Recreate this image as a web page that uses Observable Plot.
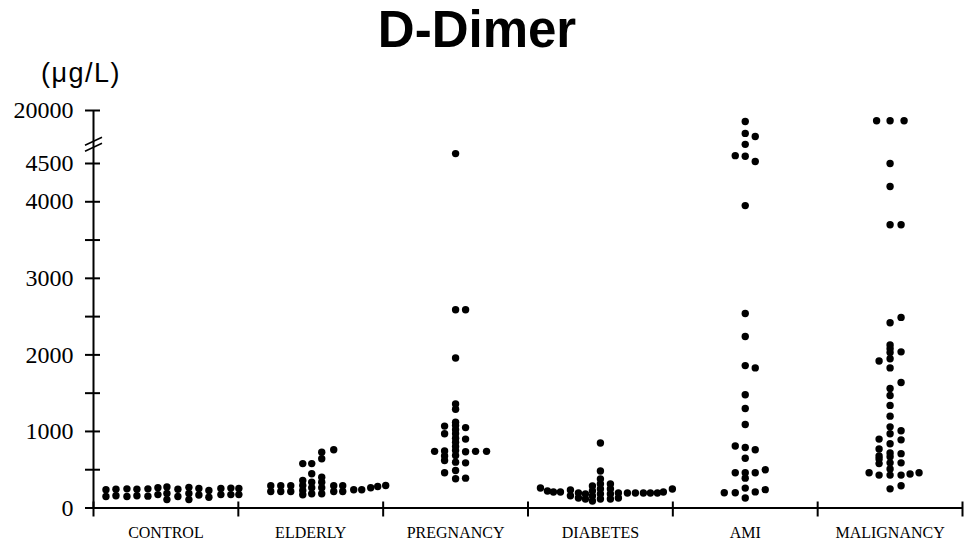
<!DOCTYPE html>
<html>
<head>
<meta charset="utf-8">
<script src="https://cdn.jsdelivr.net/npm/d3@7"></script>
<script src="https://cdn.jsdelivr.net/npm/@observablehq/plot@0.6"></script>
<style>
  html, body { margin: 0; padding: 0; background: #fff; }
  #wrap { position: relative; width: 970px; height: 543px; overflow: hidden; }
  #title { position: absolute; left: 0; top: 4px; width: 954px; text-align: center;
           font: bold 51px/51px "Liberation Sans", Arial, sans-serif; color: #000; }
  #unit { position: absolute; left: 41px; top: 59px; font: 27px/28px "Liberation Sans", Arial, sans-serif;
          letter-spacing: 1.5px; color: #000; }
  #chart { position: absolute; left: 0; top: 60px; }
</style>
</head>
<body>
<div id="wrap">
  <div id="chart"></div>
  <div id="title">D-Dimer</div>
  <div id="unit">(μg/L)</div>
</div>
<script>
// ---- data ----
const categories = ["CONTROL", "ELDERLY", "PREGNANCY", "DIABETES", "AMI", "MALIGNANCY"];

// each entry: [column within the group's swarm, [values in µg/L]]
const control = [
  [-6, [240, 150]], [-5, [245, 160]], [-3.9, [250, 150]], [-2.9, [245, 160]],
  [-1.8, [250, 155]], [-0.8, [265, 175]], [0.1, [274, 190, 110]], [1.2, [245, 150]],
  [2.3, [270, 190, 110]], [3.3, [255, 170]], [4.3, [230, 140]], [5.5, [255, 175]],
  [6.5, [260, 175]], [7.3, [255, 175]]
];
const elderly = [
  [-4, [290, 215]], [-3, [290, 215]], [-2, [290, 215]],
  [-0.8, [580, 360, 294, 229, 173]],
  [0.1, [580, 447, 337, 264, 186]],
  [1.1, [729, 643, 403, 337, 264, 186]],
  [2.3, [760, 290, 215]], [3.2, [290, 215]],
  [4.3, [238]], [5.1, [238]], [6.0, [264]], [6.7, [281]], [7.5, [294]]
];
const pregnancy = [
  [0, [7400, 2590, 1960, 1360, 1290, 1120, 1078, 1022, 970, 912, 860, 804, 751, 686, 599, 490, 382]],
  [1, [2590, 1050, 900, 735, 590, 390]],
  [-1.1, [1070, 970, 745, 680, 620, 460]],
  [-2.1, [740]], [2, [740]], [3.1, [740]]
];
const diabetes = [
  [-6, [262]], [-5.3, [222]], [-4.7, [209]], [-4, [209]], [-3, [236, 160]],
  [-2.2, [196, 131]], [-1.5, [183, 118]], [-0.8, [288, 222, 157, 92]],
  [0, [850, 484, 380, 314, 249, 183, 118]], [1, [314, 249, 183, 118]],
  [1.8, [196, 131]], [2.7, [196]], [3.5, [196]], [4.3, [196]], [5, [196]],
  [5.7, [196]], [6.3, [209]], [7.2, [249]]
];
const ami = [
  [0, [16800, 13300, 10100, 6600, 3950, 2540, 2240, 1860, 1480, 1300, 1090, 790, 650, 460, 390, 260, 130]],
  [1, [12400, 5100, 1830, 760, 460, 210]],
  [-1, [6800, 810, 460, 200]],
  [2, [500, 240]],
  [-2.1, [200]]
];
const malignancy = [
  [0, [17000, 4500, 4200, 3700, 2420, 2130, 2080, 2030, 1950, 1830, 1560, 1470, 1340, 1200, 1060, 970, 840, 720, 670, 590, 510, 430, 250]],
  [-1.35, [17000]], [1.4, [17000]],
  [1.1, [3700, 2490, 2040, 1640, 1010, 890, 710, 590, 430, 290]],
  [-1.1, [1920, 900, 770, 680, 640, 580, 430]],
  [-2.1, [460]], [2, [445]], [2.9, [460]]
];
const groups = [control, elderly, pregnancy, diabetes, ami, malignancy];

const yTicks = [0, 500, 1000, 1500, 2000, 2500, 3000, 3500, 4000, 4500, 20000];
const yLabels = [0, 1000, 2000, 3000, 4000, 4500, 20000];
const yBreak = 10000;   // where the axis break is drawn (between 4500 and 20000)

// ---- build the table ----
const dots = groups.flatMap((g, gi) =>
  g.flatMap(([col, vals]) => vals.map(v => ({group: categories[gi], gi, col, v}))));

// ---- layout ----
const W = 970, H = 483;
const mL = 93, mR = 8, mT = 50, mB = 35.5;
const frameW = W - mL - mR, frameH = H - mT - mB;
const step = 0.069;  // column spacing, in category units

const breakMark = (index, scales) => {
  const g = d3.create("svg:g").attr("stroke", "black").attr("stroke-width", 1.6).attr("fill", "none");
  const x0 = scales.x(-0.5), yb = scales.y(yBreak);
  for (const o of [-3, 3]) {
    g.append("line").attr("x1", x0 - 8).attr("y1", yb + o + 4).attr("x2", x0 + 9).attr("y2", yb + o - 4);
  }
  return g.node();
};

const chart = Plot.plot({
  width: W, height: H,
  marginLeft: mL, marginRight: mR, marginTop: mT, marginBottom: mB,
  style: {fontFamily: "'Liberation Serif', 'Times New Roman', serif", background: "white", color: "black"},
  x: {type: "linear", domain: [-0.5, categories.length - 0.5], axis: null},
  y: {type: "linear", domain: [0, 4500, 20000], range: [H - mB, 103, mT], axis: null},
  marks: [
    // y axis
    Plot.ruleX([-0.5], {y1: 0, y2: 20000, strokeWidth: 2}),
    Plot.axisY(yTicks, {anchor: "left", label: null, tickSize: 8, tickPadding: 12, strokeWidth: 2, fontSize: 24,
      tickFormat: d => yLabels.includes(d) ? String(d) : ""}),
    Plot.ruleY(yTicks, {y: d => d, insetRight: frameW - 7, strokeWidth: 2}),
    breakMark,
    // x axis
    Plot.ruleY([0], {x1: -0.5, x2: categories.length - 0.5, strokeWidth: 2}),
    Plot.ruleX(d3.range(categories.length + 1).map(i => i - 0.5),
      {x: d => d, insetTop: frameH - 6, insetBottom: -9, strokeWidth: 2}),
    Plot.text(categories, {x: (d, i) => i, frameAnchor: "bottom", dy: 30, fontSize: 16, text: d => d}),
    // data
    Plot.dot(dots, {x: d => d.gi + d.col * step, y: "v", r: 3.7, fill: "black", stroke: "none"})
  ]
});
document.getElementById("chart").appendChild(chart);
</script>
</body>
</html>
